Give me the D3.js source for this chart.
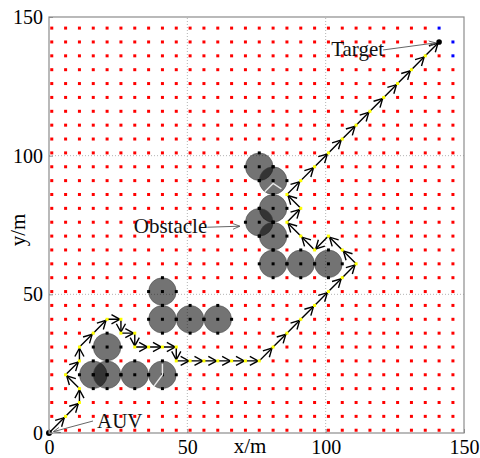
<!DOCTYPE html>
<html>
<head>
<meta charset="utf-8">
<script src="https://cdn.jsdelivr.net/npm/d3@7/dist/d3.min.js"></script>
<style>
  html, body { margin: 0; padding: 0; background: #fff; }
  svg { display: block; font-family: "Liberation Serif", "Times New Roman", serif; }
</style>
</head>
<body>
<svg id="chart" width="480" height="458"></svg>
<script>
// Grid nodes of the environment map (metres), shared by x and y
const gridCoords = [1, 6, 11, 16, 21, 26, 31, 36, 41, 46, 51, 56, 61, 66, 71, 76,
                    81, 86, 91, 96, 101, 106, 111, 116, 121, 126, 131, 136, 141, 146];

// Axis ticks
const tickValues = [0, 50, 100, 150];

// Circular obstacles (centre x, centre y), radius in metres
const obstacleCenters = [
  [16, 21], [21, 21], [31, 21], [41, 21], [21, 31],
  [41, 51], [41, 41], [51, 41], [61, 41],
  [76, 96], [81, 91], [81, 81], [76, 76], [81, 71], [81, 61], [91, 61], [101, 61]
];
const obstacleRadius = 5;

// Planned AUV path, start to target
const pathX = [0, 6, 11, 11, 6, 11, 11, 16, 21, 26, 26, 31, 31, 36, 41, 46, 46, 51, 56, 61, 66, 71, 76,
               81, 86, 91, 96, 101, 106, 111, 106, 101, 96, 91, 86, 91, 86, 91, 96, 101,
               106, 111, 116, 121, 126, 131, 136, 141];
const pathY = [0, 6, 11, 16, 21, 26, 31, 36, 41, 41, 36, 36, 31, 31, 31, 31, 26, 26, 26, 26, 26, 26, 26,
               31, 36, 41, 46, 51, 56, 61, 66, 71, 66, 71, 76, 81, 86, 91, 96, 101,
               106, 111, 116, 121, 126, 131, 136, 141];

// Target neighbourhood nodes shown in blue
const blueNodes = [[141, 146], [146, 141], [146, 136]];
// Nodes left unmarked
const blankNodes = [[146, 146], [1, 1]];

// White traces inside two obstacles
const whiteTraces = [
  [[41, 25], [41, 21], [38, 17]],
  [[78, 87], [81, 90], [84, 88]]
];

const svg = d3.select("#chart");
const x = d3.scaleLinear().domain([0, 150]).range([49, 464]);
const y = d3.scaleLinear().domain([0, 150]).range([433, 17]);

// Dotted grid lines
const g = svg.append("g");
[50, 100].forEach(v => {
  g.append("line").attr("x1", x(v)).attr("x2", x(v)).attr("y1", y(0)).attr("y2", y(150))
    .attr("stroke", "#b4b4b4").attr("stroke-width", 1).attr("stroke-dasharray", "1,2");
  g.append("line").attr("x1", x(0)).attr("x2", x(150)).attr("y1", y(v)).attr("y2", y(v))
    .attr("stroke", "#b4b4b4").attr("stroke-width", 1).attr("stroke-dasharray", "1,2");
});

// Bookkeeping of which nodes carry a special marker
const key = (a, b) => a + "," + b;
const obstacleNodes = [];
obstacleCenters.forEach(([cx, cy]) => {
  [[0, 0], [obstacleRadius, 0], [-obstacleRadius, 0], [0, obstacleRadius], [0, -obstacleRadius]]
    .forEach(([dx, dy]) => obstacleNodes.push([cx + dx, cy + dy]));
});
const path = pathX.map((v, i) => [v, pathY[i]]);
const taken = new Set();
obstacleNodes.forEach(p => taken.add(key(p[0], p[1])));
path.forEach(p => taken.add(key(p[0], p[1])));
blueNodes.forEach(p => taken.add(key(p[0], p[1])));
blankNodes.forEach(p => taken.add(key(p[0], p[1])));

const freeNodes = [];
gridCoords.forEach(gx => gridCoords.forEach(gy => {
  if (!taken.has(key(gx, gy))) freeNodes.push([gx, gy]);
}));

const dotSize = 3;
function dots(data, color) {
  svg.append("g").selectAll("rect").data(data).join("rect")
    .attr("x", d => x(d[0]) - dotSize / 2)
    .attr("y", d => y(d[1]) - dotSize / 2)
    .attr("width", dotSize).attr("height", dotSize)
    .attr("fill", color);
}
dots(freeNodes, "#ff0000");
dots(blueNodes, "#0000ff");

// Obstacles
const rPx = x(obstacleRadius) - x(0);
svg.append("g").selectAll("circle").data(obstacleCenters).join("circle")
  .attr("cx", d => x(d[0])).attr("cy", d => y(d[1])).attr("r", rPx)
  .attr("fill", "#000").attr("fill-opacity", 0.55)
  .attr("stroke", "#444").attr("stroke-opacity", 0.6).attr("stroke-width", 0.8);
dots(obstacleNodes, "#000");

const line = d3.line().x(d => x(d[0])).y(d => y(d[1]));
svg.append("g").selectAll("path").data(whiteTraces).join("path")
  .attr("d", line).attr("fill", "none").attr("stroke", "#e8e8e8").attr("stroke-width", 1.4);

// Path with an arrowhead on every step
const pg = svg.append("g").attr("fill", "none").attr("stroke", "#000").attr("stroke-width", 1.4);
pg.append("path").attr("d", line(path));
const armLen = 9.5, armAng = 0.5;
d3.pairs(path).forEach(([a, b]) => {
  const x1 = x(a[0]), y1 = y(a[1]), x2 = x(b[0]), y2 = y(b[1]);
  const ang = Math.atan2(y2 - y1, x2 - x1);
  const tx = x1 + (x2 - x1) * 0.92, ty = y1 + (y2 - y1) * 0.92;
  const p1 = [tx - armLen * Math.cos(ang - armAng), ty - armLen * Math.sin(ang - armAng)];
  const p2 = [tx - armLen * Math.cos(ang + armAng), ty - armLen * Math.sin(ang + armAng)];
  pg.append("path").attr("d", `M${p1[0]},${p1[1]}L${tx},${ty}L${p2[0]},${p2[1]}`);
});
dots(path.slice(1, -1), "#ffff00");

// Start and target markers
const start = path[0], target = path[path.length - 1];
svg.append("circle").attr("cx", x(start[0])).attr("cy", y(start[1])).attr("r", 3).attr("fill", "#000");
svg.append("circle").attr("cx", x(target[0])).attr("cy", y(target[1])).attr("r", 2.8).attr("fill", "#000");

// Axes frame and ticks
svg.append("rect").attr("x", x(0)).attr("y", y(150))
  .attr("width", x(150) - x(0)).attr("height", y(0) - y(150))
  .attr("fill", "none").attr("stroke", "#8c8c8c").attr("stroke-width", 1.2);

const xAxis = svg.append("g").attr("transform", `translate(0,${y(0)})`)
  .call(d3.axisBottom(x).tickValues(tickValues).tickSizeInner(-4).tickSizeOuter(0).tickPadding(7));
const yAxis = svg.append("g").attr("transform", `translate(${x(0)},0)`)
  .call(d3.axisLeft(y).tickValues(tickValues).tickSizeInner(-4).tickSizeOuter(0).tickPadding(6));
[xAxis, yAxis].forEach(ax => {
  ax.attr("font-family", null).attr("font-size", null);
  ax.select(".domain").remove();
  ax.selectAll(".tick line").attr("stroke", "#8c8c8c");
  ax.selectAll(".tick text").attr("fill", "#000")
    .style("font-family", '"Liberation Serif", "Times New Roman", serif').style("font-size", "20px");
});

// Axis titles
svg.append("text").attr("x", 250).attr("y", 453).attr("text-anchor", "middle")
  .style("font-size", "21px").text("x/m");
svg.append("text").attr("transform", "translate(25,230) rotate(-90)").attr("text-anchor", "middle")
  .style("font-size", "21px").text("y/m");

// Annotations
const ann = svg.append("g");
ann.append("defs").append("marker").attr("id", "head").attr("viewBox", "0 0 10 10")
  .attr("refX", 9).attr("refY", 5).attr("markerWidth", 7).attr("markerHeight", 7)
  .attr("orient", "auto")
  .append("path").attr("d", "M0,1 L10,5 L0,9").attr("fill", "none").attr("stroke", "#555").attr("stroke-width", 1.2);

function annotate(label, tx, ty, anchor, fromX, fromY, toX, toY) {
  ann.append("line").attr("x1", fromX).attr("y1", fromY).attr("x2", toX).attr("y2", toY)
    .attr("stroke", "#666").attr("stroke-width", 1).attr("marker-end", "url(#head)");
  ann.append("text").attr("x", tx).attr("y", ty).attr("text-anchor", anchor)
    .style("font-size", "21px").attr("fill", "#111").text(label);
}
const tX = x(target[0]), tY = y(target[1]);
annotate("Target", tX - 55, tY + 14, "end", tX - 56, tY + 8, tX - 4, tY + 1);

const obs = obstacleCenters[12];
const oX = x(obs[0]), oY = y(obs[1]);
annotate("Obstacle", oX - 52, oY + 11, "end", oX - 52, oY + 5, oX - 20, oY + 4);

const sX = x(start[0]), sY = y(start[1]);
annotate("AUV", sX + 48, sY - 5, "start", sX + 44, sY - 12, sX + 5, sY - 1.5);
</script>
</body>
</html>
